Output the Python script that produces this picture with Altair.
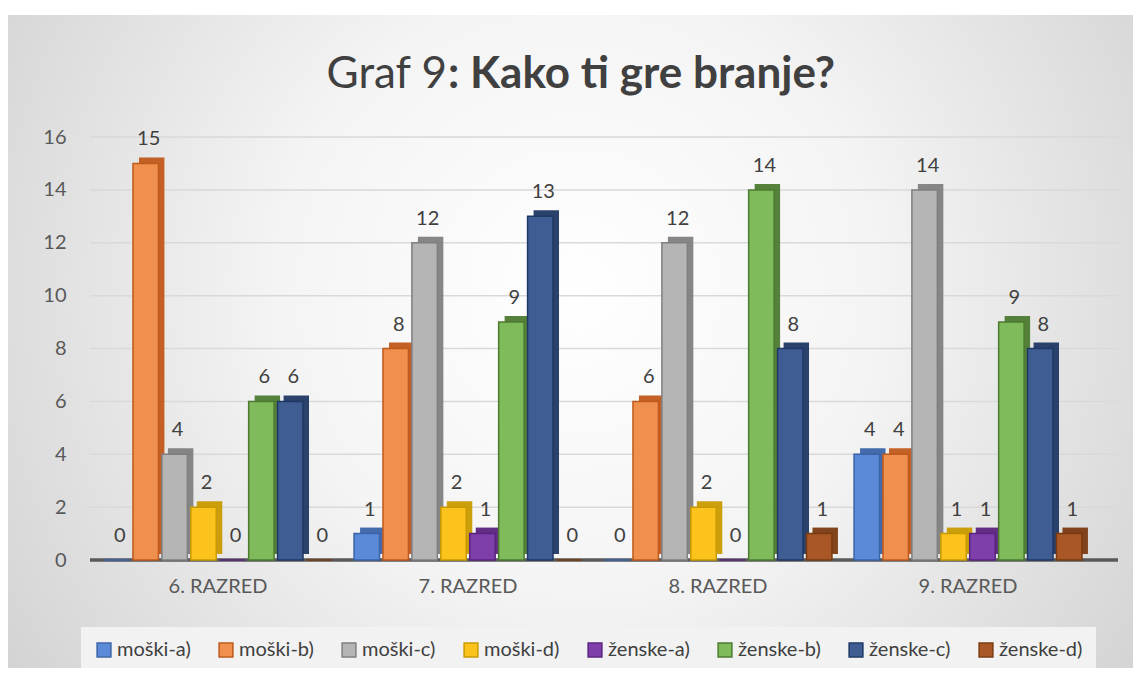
import altair as alt
import pandas as pd

categories = ["6. RAZRED", "7. RAZRED", "8. RAZRED", "9. RAZRED"]
series = ["moški-a)", "moški-b)", "moški-c)", "moški-d)",
          "ženske-a)", "ženske-b)", "ženske-c)", "ženske-d)"]
values = {
    "moški-a)":  [0, 1, 0, 4],
    "moški-b)":  [15, 8, 6, 4],
    "moški-c)":  [4, 12, 12, 14],
    "moški-d)":  [2, 2, 2, 1],
    "ženske-a)": [0, 1, 0, 1],
    "ženske-b)": [6, 9, 14, 9],
    "ženske-c)": [6, 13, 8, 8],
    "ženske-d)": [0, 0, 1, 1],
}
y_ticks = [0, 2, 4, 6, 8, 10, 12, 14, 16]
front_colors = ["#5B8BD8", "#F0904F", "#B5B5B5", "#FBC31C",
                "#7E3FAA", "#80BB5B", "#3F5D93", "#A95726"]
side_colors = ["#3A63A8", "#C0591A", "#7F7F7F", "#C99A00",
               "#5A2380", "#4C7A30", "#1F3864", "#7A3A10"]

rows = []
for s in series:
    for c, v in zip(categories, values[s]):
        rows.append({"cat": c, "series": s, "value": v})
df = pd.DataFrame(rows)

FONT = "Lato"
TXT = "#404040"
W, H = 1000, 423
P_IN, P_OUT = 0.07, 0.035
band = W / (len(categories) - P_IN + 2 * P_OUT) * (1 - P_IN)
SHIFT = 6

x_enc = alt.X("cat:N", sort=categories, title=None,
              scale=alt.Scale(paddingInner=P_IN, paddingOuter=P_OUT),
              axis=alt.Axis(labelFontSize=20, labelColor="#595959", labelFont=FONT,
                            labelPadding=16, ticks=False, domain=False,
                            labelAngle=0, grid=False, zindex=1))


def xo(shift=0):
    return alt.XOffset("series:N", sort=series,
                       scale=alt.Scale(type="band", paddingInner=0.12, paddingOuter=0.08,
                                       range=[shift, band + shift]))


y_scale = alt.Scale(domain=[0, 16], nice=False)
y_axis = alt.Axis(values=y_ticks, labelFontSize=20, labelColor="#595959",
                  labelFont=FONT, labelPadding=27, ticks=False, domain=False,
                  grid=False, zindex=1)
y_enc = alt.Y("value:Q", title=None, scale=y_scale, axis=y_axis)

bg = alt.Chart(alt.Data(values=[{"a": 1}])).mark_rect(
    fill=alt.RadialGradient(
        gradient="radial",
        stops=[alt.GradientStop(color="#ffffff", offset=0.0),
               alt.GradientStop(color="#f4f4f4", offset=0.35),
               alt.GradientStop(color="#c4c4c4", offset=1.0)],
        x1=0.5, y1=0.45, x2=0.5, y2=0.45, r1=0.0, r2=0.75),
).encode(x=alt.value(-88), x2=alt.value(1055), y=alt.value(-122), y2=alt.value(545))

grid = alt.Chart(pd.DataFrame({"t": y_ticks})).mark_rule(
    color="#d9d9d9", strokeWidth=1.5).encode(
    y=alt.Y("t:Q", title=None, scale=y_scale, axis=y_axis),
    x=alt.value(-3), x2=alt.value(W + 25))

base = alt.Chart(pd.DataFrame({"t": [0]})).mark_rule(
    color="#595959", strokeWidth=3.5).encode(
    y=alt.Y("t:Q", title=None, scale=y_scale, axis=y_axis),
    x=alt.value(-3), x2=alt.value(W + 25))

side = alt.Chart(df).mark_bar(yOffset=-SHIFT, opacity=0.95).encode(
    x=x_enc, xOffset=xo(SHIFT), y=y_enc,
    color=alt.Color("series:N", scale=alt.Scale(domain=series, range=side_colors), legend=None),
)

legend_kw = dict(title=None, orient="none", legendX=-12, legendY=490,
                 direction="horizontal", columns=8, symbolType="square",
                 symbolSize=190, symbolStrokeWidth=1.5,
                 labelFontSize=20, labelFont=FONT, labelColor=TXT,
                 columnPadding=25, fillColor="#f2f2f2", padding=13, labelOffset=3)

front = alt.Chart(df).mark_bar(strokeWidth=1.5).encode(
    x=x_enc, xOffset=xo(0), y=y_enc,
    fill=alt.Fill("series:N", scale=alt.Scale(domain=series, range=front_colors),
                  legend=alt.Legend(**legend_kw)),
    stroke=alt.Stroke("series:N", scale=alt.Scale(domain=series, range=side_colors),
                      legend=alt.Legend(**legend_kw)),
)

labels = alt.Chart(df).mark_text(baseline="bottom", dy=-14, dx=3, fontSize=20, font=FONT,
                                 color=TXT).encode(
    x=x_enc, xOffset=xo(0), y=y_enc, text="value:Q")

title1 = alt.Chart(alt.Data(values=[{"t": "Graf 9"}])).mark_text(
    align="right", baseline="alphabetic", fontSize=44, font=FONT, color=TXT).encode(
    x=alt.value(354), y=alt.value(-49), text="t:N")
title2 = alt.Chart(alt.Data(values=[{"t": ": Kako ti gre branje?"}])).mark_text(
    align="left", baseline="alphabetic", fontSize=44, font=FONT, fontWeight="bold",
    color=TXT).encode(x=alt.value(355), y=alt.value(-49), text="t:N")

chart = alt.layer(bg, grid, base, side, front, labels, title1, title2).resolve_scale(
    color="independent", fill="independent", stroke="independent", xOffset="independent"
).properties(
    width=W, height=H,
    autosize=alt.AutoSizeParams(type="none"),
    padding={"left": 85, "top": 129, "right": 40, "bottom": 108},
    background="white",
).configure_view(stroke=None)

chart.save("out.html", embed_options={"renderer": "svg", "actions": False})
